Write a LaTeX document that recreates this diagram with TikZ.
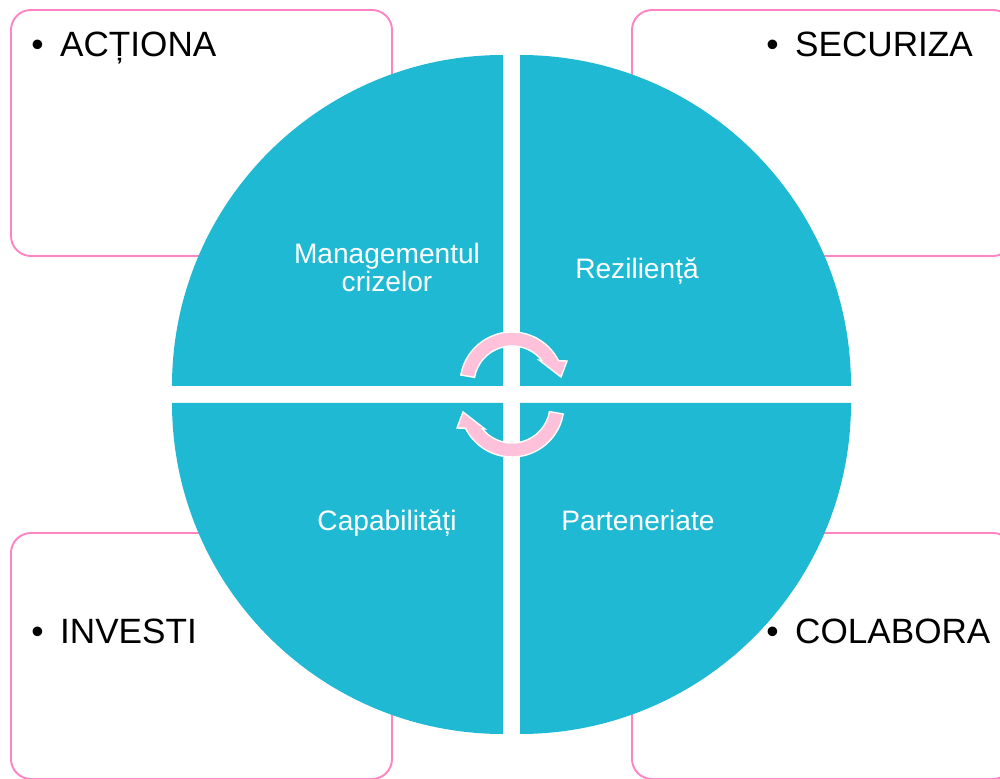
\documentclass[tikz,border=0pt]{standalone}
\usepackage{fontspec}
\setmainfont{Liberation Sans}
\definecolor{quadteal}{RGB}{31,185,211}
\definecolor{boxpink}{RGB}{255,132,196}
\definecolor{arrowpink}{RGB}{255,192,218}

\begin{document}
\begin{tikzpicture}[x=0.02cm,y=0.02cm,
    pink box/.style={draw=boxpink,line width=1.1pt,rounded corners=0.4cm,fill=white},
    quarter/.style={fill=quadteal},
    label node/.style={text=white,inner sep=0pt,align=center,font=\fontsize{16}{16.4}\selectfont},
    bullet node/.style={inner sep=0pt,anchor=base west,font=\fontsize{20}{24}\selectfont},
    turn arrow/.style={fill=arrowpink,draw=white,line width=0.8pt,line join=miter}]

  \clip (0,0) rectangle (1000,778);

  % boxes in the corners
  \draw[pink box] (11,768) rectangle (392,522);
  \draw[pink box] (632,768) rectangle (1013,522);
  \draw[pink box] (11,245) rectangle (392,-1);
  \draw[pink box] (632,245) rectangle (1013,-1);

  \node[bullet node] (actiona) at (31,721) {•\hspace{0.33cm}ACȚIONA};
  \node[bullet node] (securiza) at (766,721) {•\hspace{0.33cm}SECURIZA};
  \node[bullet node] (investi) at (31,135) {•\hspace{0.33cm}INVESTI};
  \node[bullet node] (colabora) at (766,135) {•\hspace{0.33cm}COLABORA};

  % the four quarters
  \fill[quarter] (503,392) -- (172,392) arc[start angle=180,end angle=90,radius=331] -- cycle;
  \fill[quarter] (520,392) -- (520,723) arc[start angle=90,end angle=0,radius=331] -- cycle;
  \fill[quarter] (503,375) -- (172,375) arc[start angle=180,end angle=270,radius=331] -- cycle;
  \fill[quarter] (520,375) -- (520,44) arc[start angle=270,end angle=360,radius=331] -- cycle;

  \node[label node] (crize) at (387,510.5) {Managementul\\crizelor};
  \node[label node,anchor=base] (rezil) at (637,499) {Reziliență};
  \node[label node,anchor=base] (capab) at (387,248) {Capabilități};
  \node[label node,anchor=base] (parten) at (638,248) {Parteneriate};

  % turning arrows in the middle
  \foreach \cy/\rot in {394/0,373/180}{
    \begin{scope}[shift={(512,\cy)},rotate=\rot]
      \draw[turn arrow] (170:52) arc[start angle=170,end angle=26.6,radius=52]
        -- (55,23) -- (49,7) -- (27,24) -- (39:38)
        arc[start angle=39,end angle=170,radius=38] -- cycle;
    \end{scope}
  }

\end{tikzpicture}
\end{document}
